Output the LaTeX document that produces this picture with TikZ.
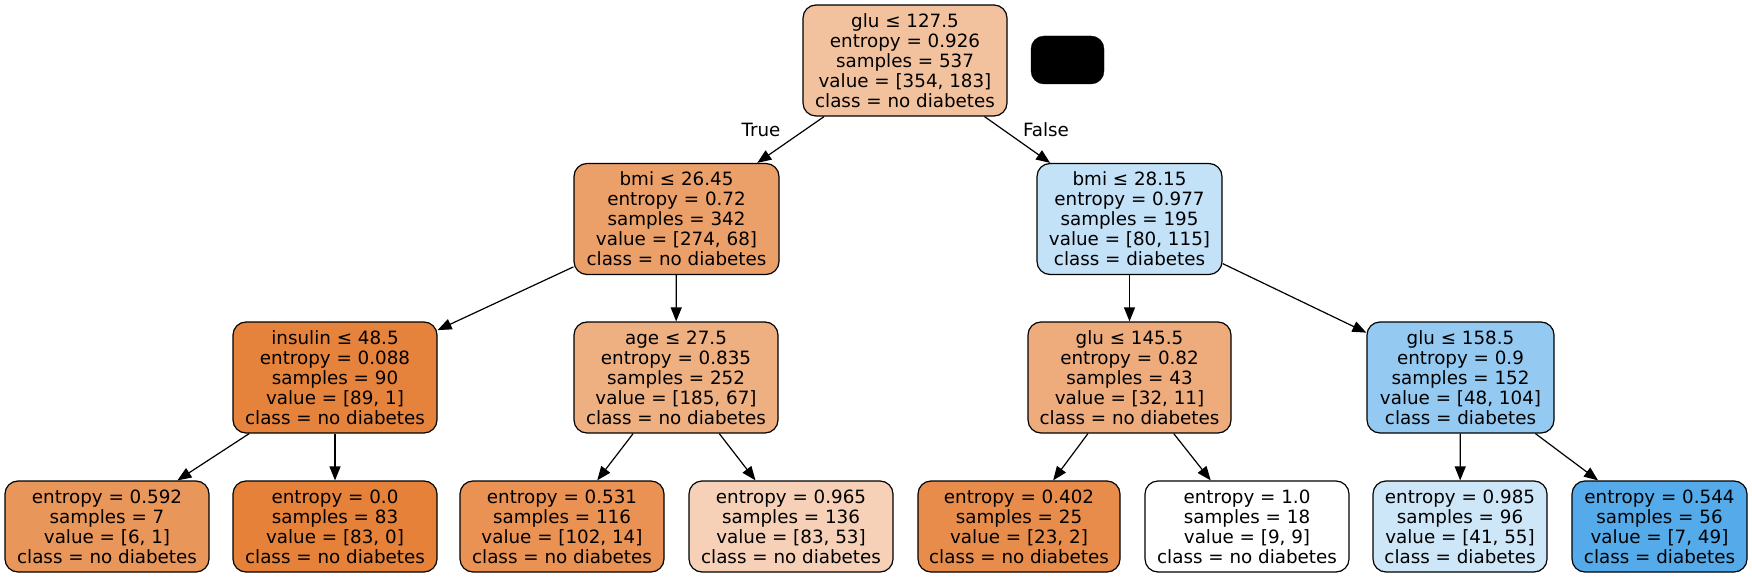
\documentclass[tikz,border=0pt]{standalone}
\usepackage{fontspec}
\setmainfont{DejaVu Sans}
\usetikzlibrary{arrows.meta}
\definecolor{cRoot}{RGB}{242,194,159}
\definecolor{cBmiA}{RGB}{235,160,106}
\definecolor{cBmiB}{RGB}{195,225,247}
\definecolor{cIns}{RGB}{229,130,59}
\definecolor{cAge}{RGB}{238,175,129}
\definecolor{cGluA}{RGB}{238,172,125}
\definecolor{cGluB}{RGB}{148,202,241}
\definecolor{cLa}{RGB}{233,150,90}
\definecolor{cLb}{RGB}{229,129,57}
\definecolor{cLc}{RGB}{233,146,84}
\definecolor{cLd}{RGB}{246,209,183}
\definecolor{cLe}{RGB}{231,140,74}
\definecolor{cLf}{RGB}{255,255,255}
\definecolor{cLg}{RGB}{205,230,248}
\definecolor{cLh}{RGB}{85,171,233}
\tikzset{
  treebox/.style={draw=black, line width=1.2pt, rounded corners=13pt, align=center,
    inner sep=0pt, minimum height=111pt, font=\fontsize{18.3}{20}\selectfont},
  leafbox/.style={treebox, minimum height=91pt},
  edgelabel/.style={font=\fontsize{18.3}{20}\selectfont, inner sep=0pt},
  edge/.style={line width=1.2pt, -{Triangle[length=14pt,width=11pt]}}
}
\begin{document}
\begin{tikzpicture}[x=1pt,y=-1pt]
\useasboundingbox (0,0) rectangle (1752,577);
% level 0
\node[treebox, fill=cRoot, minimum width=204pt] (root) at (905,60.5)
  {glu ≤ 127.5\\entropy = 0.926\\samples = 537\\value = [354, 183]\\class = no diabetes};
\node[draw=black, fill=black, rounded corners=13pt, minimum width=73pt, minimum height=48pt, inner sep=0pt] (blk) at (1067.5,60) {};
% level 1
\node[treebox, fill=cBmiA, minimum width=205pt] (bmiA) at (676.5,219)
  {bmi ≤ 26.45\\entropy = 0.72\\samples = 342\\value = [274, 68]\\class = no diabetes};
\node[treebox, fill=cBmiB, minimum width=185pt] (bmiB) at (1129.5,219)
  {bmi ≤ 28.15\\entropy = 0.977\\samples = 195\\value = [80, 115]\\class = diabetes};
% level 2
\node[treebox, fill=cIns, minimum width=204pt] (ins) at (335,377.5)
  {insulin ≤ 48.5\\entropy = 0.088\\samples = 90\\value = [89, 1]\\class = no diabetes};
\node[treebox, fill=cAge, minimum width=204pt] (age) at (676,377.5)
  {age ≤ 27.5\\entropy = 0.835\\samples = 252\\value = [185, 67]\\class = no diabetes};
\node[treebox, fill=cGluA, minimum width=203pt] (gluA) at (1129.5,377.5)
  {glu ≤ 145.5\\entropy = 0.82\\samples = 43\\value = [32, 11]\\class = no diabetes};
\node[treebox, fill=cGluB, minimum width=187pt] (gluB) at (1460.5,377.5)
  {glu ≤ 158.5\\entropy = 0.9\\samples = 152\\value = [48, 104]\\class = diabetes};
% level 3
\node[leafbox, fill=cLa, minimum width=204pt] (l1) at (107,526.5)
  {entropy = 0.592\\samples = 7\\value = [6, 1]\\class = no diabetes};
\node[leafbox, fill=cLb, minimum width=204pt] (l2) at (335,526.5)
  {entropy = 0.0\\samples = 83\\value = [83, 0]\\class = no diabetes};
\node[leafbox, fill=cLc, minimum width=204pt] (l3) at (562,526.5)
  {entropy = 0.531\\samples = 116\\value = [102, 14]\\class = no diabetes};
\node[leafbox, fill=cLd, minimum width=204pt] (l4) at (791,526.5)
  {entropy = 0.965\\samples = 136\\value = [83, 53]\\class = no diabetes};
\node[leafbox, fill=cLe, minimum width=202pt] (l5) at (1019,526.5)
  {entropy = 0.402\\samples = 25\\value = [23, 2]\\class = no diabetes};
\node[leafbox, fill=cLf, minimum width=204pt] (l6) at (1247,526.5)
  {entropy = 1.0\\samples = 18\\value = [9, 9]\\class = no diabetes};
\node[leafbox, fill=cLg, minimum width=174pt] (l7) at (1460,526.5)
  {entropy = 0.985\\samples = 96\\value = [41, 55]\\class = diabetes};
\node[leafbox, fill=cLh, minimum width=175pt] (l8) at (1659.5,526.5)
  {entropy = 0.544\\samples = 56\\value = [7, 49]\\class = diabetes};
% edges
\draw[edge] (root) -- (bmiA);
\draw[edge] (root) -- (bmiB);
\draw[edge] (bmiA) -- (ins);
\draw[edge] (bmiA) -- (age);
\draw[edge] (bmiB) -- (gluA);
\draw[edge] (bmiB) -- (gluB);
\draw[edge] (ins) -- (l1);
\draw[edge] (ins) -- (l2);
\draw[edge] (age) -- (l3);
\draw[edge] (age) -- (l4);
\draw[edge] (gluA) -- (l5);
\draw[edge] (gluA) -- (l6);
\draw[edge] (gluB) -- (l7);
\draw[edge] (gluB) -- (l8);
% edge labels
\node[edgelabel] (tl) at (761,130) {True};
\node[edgelabel] (fl) at (1046,130) {False};
\end{tikzpicture}
\end{document}
